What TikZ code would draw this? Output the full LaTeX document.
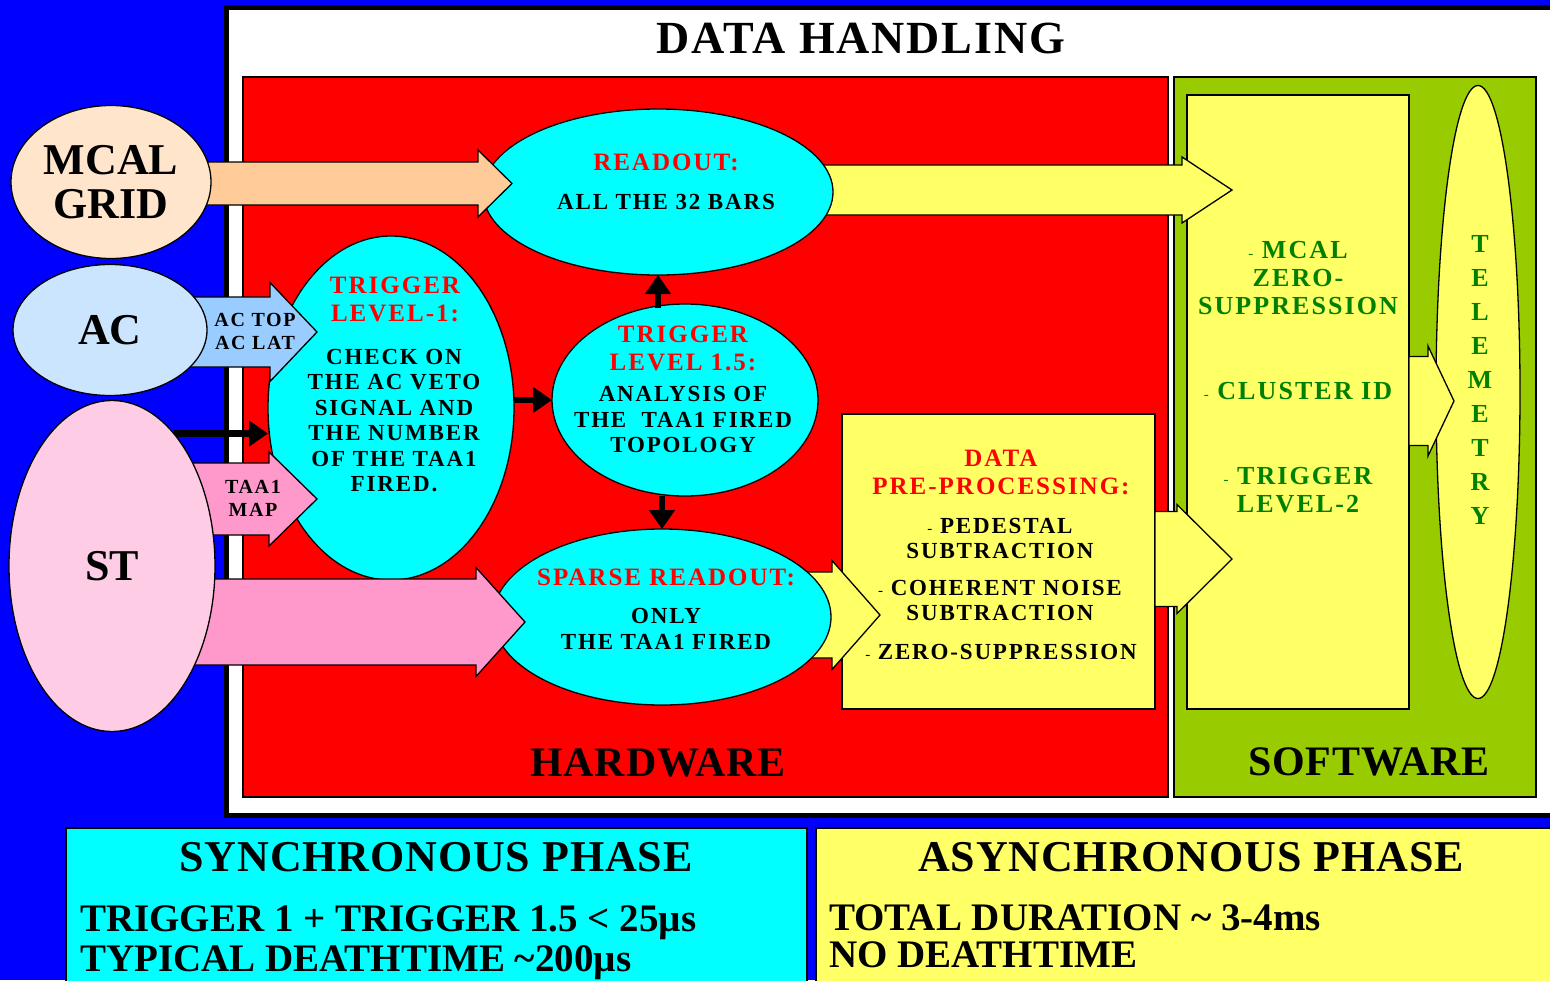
\documentclass[tikz,border=0pt]{standalone}
\usepackage{fontspec}
\setmainfont{Liberation Serif}
\newfontfamily\spaced{Liberation Serif}[LetterSpace=8]
\newfontfamily\titlefont{Liberation Serif}[LetterSpace=4]
\newfontfamily\widefont{Liberation Serif}[LetterSpace=2]
\usetikzlibrary{shapes.geometric,arrows.meta,calc}

\definecolor{bgblue}{HTML}{0000FF}
\definecolor{hwred}{HTML}{FF0000}
\definecolor{swgreen}{HTML}{99CC00}
\definecolor{phcyan}{HTML}{00FFFF}
\definecolor{phyellow}{HTML}{FFFF66}
\definecolor{mcalfill}{HTML}{FFE5CC}
\definecolor{mcalarrow}{HTML}{FFCC99}
\definecolor{acfill}{HTML}{CCE5FF}
\definecolor{acarrow}{HTML}{99CCFF}
\definecolor{stfill}{HTML}{FFCCE5}
\definecolor{starrow}{HTML}{FF99CC}
\definecolor{txtgreen}{HTML}{008000}

\pgfdeclarelayer{back}
\pgfdeclarelayer{mid}
\pgfdeclarelayer{front}
\pgfsetlayers{back,mid,main,front}

% fat block arrow: [style]{from}{tip}{half shaft}{half head}{head length}
\newcommand\fatarrow[6][]{%
  \draw[fatarr,#1] ($(#2 |- #3)+(0,#4)$) -- ($(#3)+(-#6,#4)$) -- ($(#3)+(-#6,#5)$)
    -- (#3) -- ($(#3)+(-#6,-#5)$) -- ($(#3)+(-#6,-#4)$) -- ($(#2 |- #3)+(0,-#4)$) -- cycle;}
\newcommand\itemdash{{\mdseries\fontsize{15}{15}\selectfont-}\ }

\begin{document}
\begin{tikzpicture}[x=1pt,y=-1pt,
  ellnode/.style={ellipse, draw, line width=1.3pt, inner sep=0pt, outer sep=0pt},
  panel/.style={draw, line width=1.3pt, anchor=north west, inner sep=0pt, outer sep=0pt},
  fatarr/.style={draw, line width=1.3pt, line join=miter},
  blkarr/.style={line width=6.5pt, -{Triangle[length=19pt,width=25pt]}},
  titletxt/.style={font=\titlefont\bfseries\fontsize{46}{46}\selectfont},
  labeltxt/.style={font=\widefont\bfseries\fontsize{42}{42}\selectfont},
  srctxt/.style={font=\bfseries\fontsize{44}{44}\selectfont, align=center},
  tagtxt/.style={font=\spaced\bfseries\fontsize{20}{23}\selectfont, align=center},
  hdtxt/.style={text=hwred, font=\spaced\bfseries\fontsize{25}{28}\selectfont, align=center},
  bodytxt/.style={font=\spaced\bfseries\fontsize{23}{25.5}\selectfont, align=center},
  grtxt/.style={text=txtgreen, font=\spaced\bfseries\fontsize{26}{28}\selectfont, align=center},
  teltxt/.style={text=txtgreen, font=\bfseries\fontsize{26}{34}\selectfont, align=center},
  phasetxt/.style={font=\widefont\bfseries\fontsize{44}{44}\selectfont},
  bottxt/.style={font=\bfseries\fontsize{39}{39}\selectfont, anchor=base west, inner sep=0pt},
]
\useasboundingbox (0,0) rectangle (1550,980);

% panels and boxes
\begin{pgfonlayer}{back}
\fill[bgblue] (0,0) rectangle (1550,980);
\node[panel, fill=white, line width=5pt, minimum width=1349pt, minimum height=808pt] (frame) at (226,7) {};
\node[panel, fill=hwred, minimum width=925pt, minimum height=720pt] (hwbox) at (243,77) {};
\node[panel, fill=swgreen, minimum width=362pt, minimum height=720pt] (swbox) at (1174,77) {};
\node[panel, fill=phyellow, minimum width=222pt, minimum height=614pt] (softbox) at (1187,95) {};
\node[panel, fill=phyellow, line width=2pt, minimum width=313pt, minimum height=295pt] (prepro) at (842,414) {};
\node[ellnode, fill=phyellow, minimum width=84pt, minimum height=613pt] (telem) at (1478,392) {};
\node[panel, fill=phcyan, minimum width=741pt, minimum height=170pt] (syncbox) at (66,828) {};
\node[panel, fill=phyellow, minimum width=760pt, minimum height=170pt] (asyncbox) at (816,828) {};
\coordinate (pptip) at ($(softbox.west)+(45,157)$);
\coordinate (smtip) at ($(telem.west)+(18,9)$);
\fatarrow[fill=phyellow]{prepro.east}{pptip}{47.5}{54.5}{55}
\fatarrow[fill=phyellow]{softbox.east}{smtip}{44.5}{55}{26}
\end{pgfonlayer}

% cyan stages
\node[ellnode, fill=phcyan, minimum width=246pt, minimum height=344pt] (trig) at (391,408) {};
\node[ellnode, fill=phcyan, minimum width=350pt, minimum height=166pt] (readout) at (658,192) {};
\node[ellnode, fill=phcyan, minimum width=266pt, minimum height=192pt] (trigmid) at (685,400) {};
\node[ellnode, fill=phcyan, minimum width=338pt, minimum height=176pt] (sparse) at (662,617) {};

\begin{pgfonlayer}{mid}
\coordinate (rdtip) at ($(softbox.north west)+(45,95)$);
\coordinate (sptip) at ($(prepro.west)+(38,53.5)$);
\fatarrow[fill=phyellow]{readout.center}{rdtip}{25}{33}{50}
\fatarrow[fill=phyellow]{sparse.center}{sptip}{43}{54.5}{48}
\end{pgfonlayer}

% detectors
\begin{pgfonlayer}{front}
\node[ellnode, fill=mcalfill, srctxt, minimum width=200pt, minimum height=153pt] (mcal) at (111,182) {MCAL\\GRID};
\node[ellnode, fill=acfill, srctxt, minimum width=194pt, minimum height=131pt] (ac) at (110,330) {AC};
\node[ellnode, fill=stfill, srctxt, minimum width=206pt, minimum height=331pt] (st) at (112,566) {ST};
\end{pgfonlayer}

\coordinate (mcaltip) at ($(readout.west)+(29,-8.5)$);
\coordinate (actip) at ($(trig.west)+(49,-76)$);
\coordinate (taatip) at ($(trig.west)+(49,91)$);
\coordinate (sttip) at ($(sparse.west)+(32,5)$);
\fatarrow[fill=mcalarrow]{mcal.center}{mcaltip}{21.5}{33.5}{34}
\fatarrow[fill=acarrow]{ac.center}{actip}{35}{49.5}{47}
\fatarrow[fill=starrow]{st.center}{taatip}{36}{47}{48}
\fatarrow[fill=starrow]{st.center}{sttip}{43}{54.5}{49}

\draw[blkarr] (st.65) -- (st.65 -| trig.west);
\draw[blkarr] (trigmid.west -| trig.east) -- (trigmid.west);
\draw[blkarr] ($(readout.south |- trigmid.north)+(0,4)$) -- (readout.south);
\draw[blkarr] (sparse.north |- trigmid.south) -- (sparse.north);

% texts
\node[titletxt] (title) at (861,38) {DATA HANDLING};
\node[labeltxt] (hwlabel) at (658,763) {HARDWARE};
\node[labeltxt] (swlabel) at (1369,762) {SOFTWARE};
\node[tagtxt] (actag) at (255,331.5) {AC TOP\\AC LAT};
\node[tagtxt] (taatag) at (253,498.5) {TAA1\\MAP};

\node[hdtxt] (trighd) at (395,299) {TRIGGER\\LEVEL-1:};
\node[bodytxt] (trigbd) at (394,420.5) {CHECK ON\\THE AC VETO\\SIGNAL AND\\THE NUMBER\\OF THE TAA1\\FIRED.};
\node[hdtxt] (readouthd) at (666,162) {READOUT:};
\node[bodytxt] (readoutbd) at (666,202) {ALL THE 32 BARS};
\node[hdtxt] (trigmidhd) at (683,348) {TRIGGER\\LEVEL 1.5:};
\node[bodytxt] (trigmidbd) at (683,419.5) {ANALYSIS OF\\THE\ \ TAA1 FIRED\\TOPOLOGY};
\node[hdtxt] (sparsehd) at (666,577) {SPARSE READOUT:};
\node[bodytxt] (sparsebd) at (666,629) {ONLY\\THE TAA1 FIRED};

\node[hdtxt] (preprohd) at (1001,472) {DATA\\PRE-PROCESSING:};
\node[bodytxt] (pedestal) at (1000,538.5) {\itemdash PEDESTAL\\SUBTRACTION};
\node[bodytxt] (noise) at (1000,600.5) {\itemdash COHERENT NOISE\\SUBTRACTION};
\node[bodytxt] (zerosup) at (1001,652) {\itemdash ZERO-SUPPRESSION};

\node[grtxt] (mcalzero) at (1298,278) {\itemdash MCAL\\ZERO-\\SUPPRESSION};
\node[grtxt] (cluster) at (1298,391) {\itemdash CLUSTER ID};
\node[grtxt] (trigtwo) at (1298,490) {\itemdash TRIGGER\\LEVEL-2};
\node[teltxt] (teltext) at (1480,380) {T\\E\\L\\E\\M\\E\\T\\R\\Y};

\node[phasetxt] (synctitle) at (436,857) {SYNCHRONOUS PHASE};
\node[bottxt] (syncone) at (80,931) {TRIGGER 1 + TRIGGER 1.5 < 25µs};
\node[bottxt] (synctwo) at (80,971) {TYPICAL DEATHTIME \textasciitilde200µs};
\node[phasetxt] (asynctitle) at (1191,857) {ASYNCHRONOUS PHASE};
\node[bottxt] (asyncone) at (829,930) {TOTAL DURATION \textasciitilde\ 3-4ms};
\node[bottxt] (asynctwo) at (829,967) {NO DEATHTIME};
\end{tikzpicture}
\end{document}
